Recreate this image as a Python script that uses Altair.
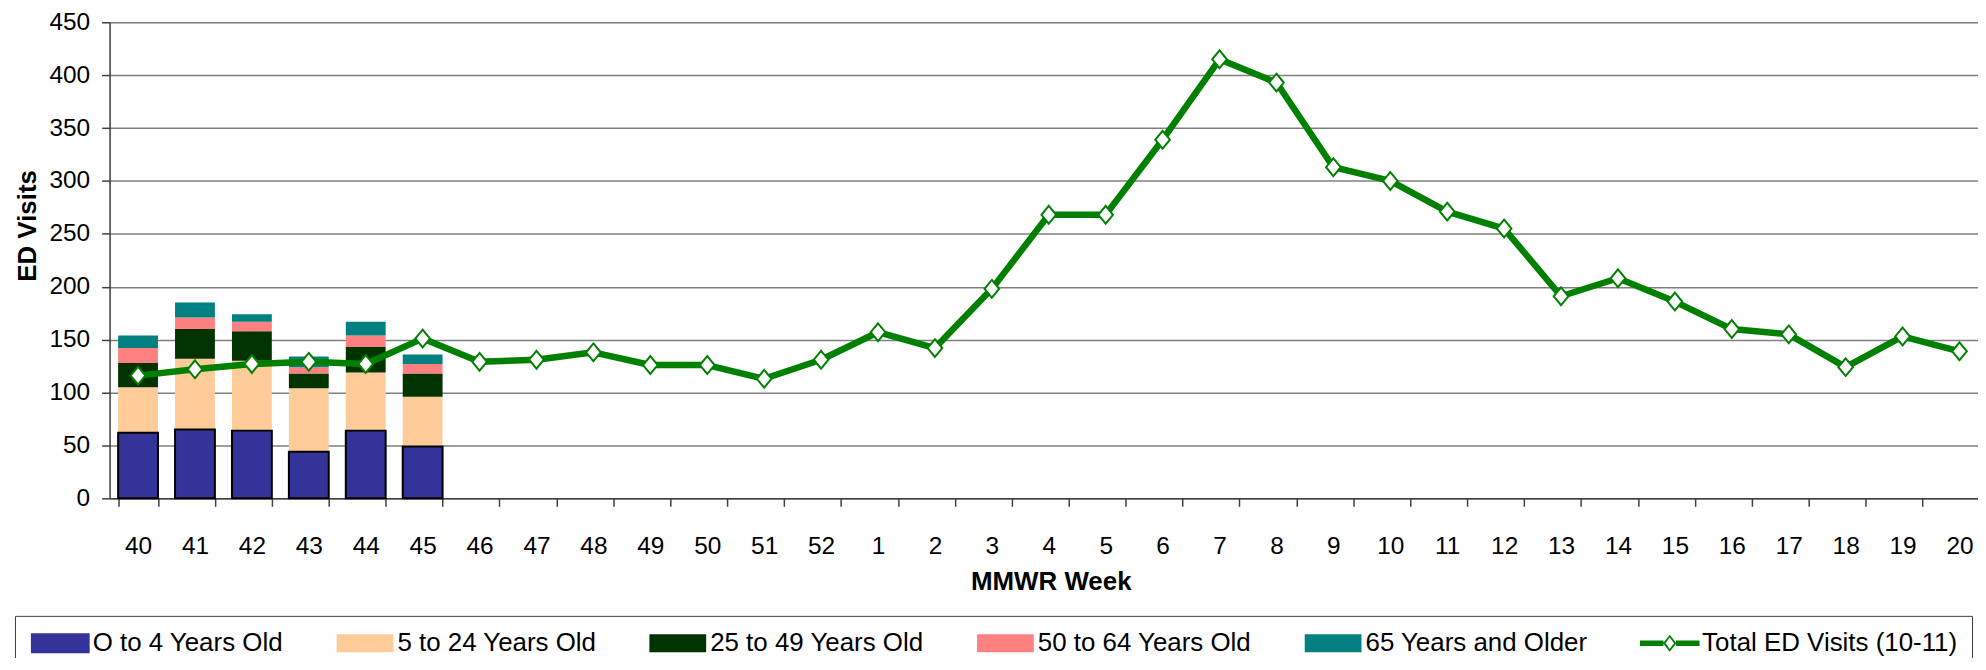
import altair as alt
import pandas as pd

# ---------------- data ----------------
weeks = ["40", "41", "42", "43", "44", "45", "46", "47", "48", "49", "50", "51", "52",
         "1", "2", "3", "4", "5", "6", "7", "8", "9", "10", "11", "12", "13", "14",
         "15", "16", "17", "18", "19", "20"]
total_visits = [116, 122, 127, 129, 127, 151, 129, 131, 138, 126, 126, 113, 131,
                157, 142, 198, 268, 268, 339, 415, 393, 313, 300, 271, 255, 191, 208,
                186, 160, 155, 124, 153, 139]

bar_weeks = ["40", "41", "42", "43", "44", "45"]
age_0_4 = [62, 65, 64, 44, 64, 49]
age_5_24 = [43, 67, 66, 60, 55, 47]
age_25_49 = [23, 28, 28, 14, 24, 22]
age_50_64 = [14, 11, 9, 6, 11, 9]
age_65_up = [12, 14, 7, 10, 13, 9]

groups = ["O to 4 Years Old", "5 to 24 Years Old", "25 to 49 Years Old",
          "50 to 64 Years Old", "65 Years and Older"]
line_name = "Total ED Visits (10-11)"
colors = ["#333399", "#FFCC99", "#003300", "#FF8080", "#008080", "#008000"]

rows = []
for gi, (g, vals) in enumerate(zip(groups, [age_0_4, age_5_24, age_25_49, age_50_64, age_65_up])):
    for w, v in zip(bar_weeks, vals):
        rows.append({"week": w, "group": g, "visits": v, "order": gi})
bars_df = pd.DataFrame(rows)
blue_df = pd.DataFrame({"week": bar_weeks, "visits": age_0_4})
line_df = pd.DataFrame({"week": weeks, "visits": total_visits, "group": line_name})

# ---------------- styling ----------------
FONT = "Liberation Sans"
rect_path = "M-1,-0.316H1V0.316H-1Z"
line_path = ("M-1.05,-0.1H-0.22V0.1H-1.05Z M0.22,-0.1H1.05V0.1H0.22Z "
             "M-0.235,0L0,-0.3L0.235,0L0,0.3Z M-0.15,0L0,0.2L0.15,0L0,-0.2Z")
diamond_path = "M0,-1.15L0.95,0L0,1.15L-0.95,0Z"

all_names = groups + [line_name]

legend = alt.Legend(
    title=None,
    orient="none",
    legendX=-95,
    legendY=596,
    direction="horizontal",
    columns=6,
    columnPadding=50,
    symbolOffset=18.5,
    labelOffset=19.5,
    labelFont=FONT,
    labelFontSize=26,
    labelColor="black",
    labelLimit=500,
    symbolSize=3249,
    symbolType=alt.ExprRef(expr=f"datum.value === '{line_name}' ? '{line_path}' : '{rect_path}'"),
    symbolStrokeColor=alt.ExprRef(expr=f"datum.value === '{groups[0]}' ? 'black' : 'transparent'"),
    symbolStrokeWidth=alt.ExprRef(expr=f"datum.value === '{groups[0]}' ? 2 : 0"),
    symbolOpacity=1,
    padding=14,
    strokeColor="#404040",
    fillColor="white",
)

x_enc = alt.X(
    "week:N",
    sort=weeks,
    scale=alt.Scale(domain=weeks, paddingInner=0.3, paddingOuter=0.15, rangeMax=1886),
    axis=alt.Axis(
        title="MMWR Week",
        labelAngle=0,
        labelOverlap=False,
        tickBand="extent",
        labelFont=FONT,
        labelFontSize=24.5,
        labelColor="black",
        labelPadding=28.5,
        tickSize=8,
        tickColor="#404040",
        tickWidth=1.5,
        domainColor="#404040",
        domainWidth=1.5,
        grid=False,
        titleFont=FONT,
        titleFontSize=26,
        titleFontWeight="bold",
        titleColor="black",
        titleX=945,
        titleY=83.5,
        titleAlign="center",
        titleBaseline="middle",
    ),
)

y_enc = alt.Y(
    "visits:Q",
    stack="zero",
    scale=alt.Scale(domain=[0, 450], nice=False),
    axis=alt.Axis(
        title="ED Visits",
        values=list(range(0, 451, 50)),
        labelFont=FONT,
        labelFontSize=24.5,
        labelColor="black",
        labelPadding=12,
        labelOverlap=False,
        tickSize=8,
        tickColor="#404040",
        tickWidth=1.5,
        domainColor="#404040",
        domainWidth=1.5,
        grid=True,
        gridColor="#808080",
        gridWidth=1.5,
        titleFont=FONT,
        titleFontSize=26,
        titleFontWeight="bold",
        titleColor="black",
        titleX=-82,
        titleY=204,
        titleAlign="center",
        titleBaseline="middle",
    ),
)

color_scale = alt.Scale(domain=all_names, range=colors)

bars = alt.Chart(bars_df).mark_bar(strokeWidth=0).encode(
    x=x_enc,
    y=y_enc,
    color=alt.Color("group:N", scale=color_scale, legend=legend),
    order=alt.Order("order:Q", sort="ascending"),
)

blue_outline = alt.Chart(blue_df).mark_bar(
    fill="transparent", stroke="black", strokeWidth=2
).encode(
    x=alt.X("week:N", sort=weeks),
    y=alt.Y("visits:Q", stack=None),
)

line = alt.Chart(line_df).mark_line(strokeWidth=6.5, strokeJoin="round").encode(
    x=alt.X("week:N", sort=weeks),
    y=alt.Y("visits:Q"),
    color=alt.Color("group:N", scale=color_scale, legend=None),
)

points = alt.Chart(line_df).mark_point(
    shape=diamond_path, filled=True, fill="white", stroke="#008000",
    strokeWidth=2, size=240, opacity=1
).encode(
    x=alt.X("week:N", sort=weeks),
    y=alt.Y("visits:Q"),
)

chart = alt.layer(bars, blue_outline, line, points).properties(
    width=1876,
    height=478,
    autosize=alt.AutoSizeParams(type="none"),
    padding={"left": 102, "top": 13, "right": 0, "bottom": 159},
).configure_view(stroke="transparent").configure(font=FONT)

chart.save("out.html", embed_options={"renderer": "svg", "actions": False})
